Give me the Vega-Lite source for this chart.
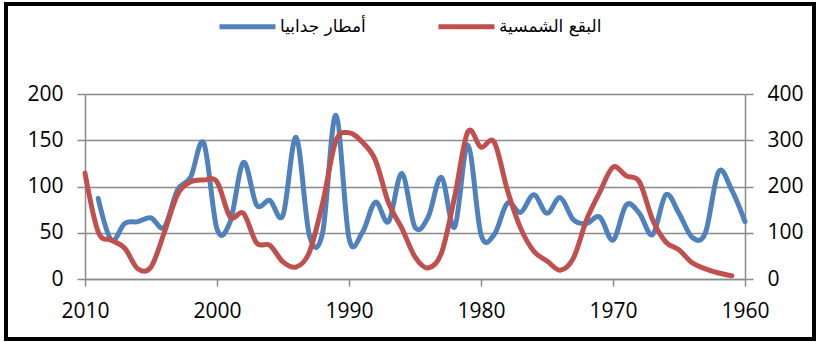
{
  "$schema": "https://vega.github.io/schema/vega-lite/v6.json",
  "autosize": {"type": "none"},
  "padding": {"left": 6, "top": 4, "right": 4, "bottom": 3},
  "width": 808,
  "height": 335,
  "background": "white",
  "config": {
    "view": {"stroke": "black", "strokeWidth": 4, "fill": "white"},
    "axis": {
      "labelFont": "Open Sans",
      "labelFontSize": 21,
      "labelColor": "black",
      "labelFlush": false,
      "domainColor": "#8a8a8a",
      "domainWidth": 1.5,
      "tickColor": "#8a8a8a",
      "tickWidth": 1.5,
      "tickSize": 8,
      "labelPadding": 14,
      "gridColor": "#8a8a8a",
      "gridWidth": 1.5,
      "title": null
    },
    "legend": {
      "orient": "none",
      "legendX": 211,
      "legendY": -8,
      "direction": "horizontal",
      "symbolType": "stroke",
      "symbolStrokeWidth": 5,
      "symbolSize": 3136,
      "labelFont": "DejaVu Sans",
      "labelFontSize": 17,
      "labelColor": "black",
      "labelOffset": 2,
      "columnPadding": 62,
      "labelLimit": 400,
      "title": null
    }
  },
  "data": {
    "values": [
      {"year": 2010, "rain": null, "sun": 229},
      {"year": 2009, "rain": 87, "sun": 102},
      {"year": 2008, "rain": 42, "sun": 84},
      {"year": 2007, "rain": 60, "sun": 67},
      {"year": 2006, "rain": 62, "sun": 22},
      {"year": 2005, "rain": 66, "sun": 26},
      {"year": 2004, "rain": 56, "sun": 100},
      {"year": 2003, "rain": 96, "sun": 182},
      {"year": 2002, "rain": 110, "sun": 210},
      {"year": 2001, "rain": 147, "sun": 214},
      {"year": 2000, "rain": 54, "sun": 210},
      {"year": 1999, "rain": 62, "sun": 134},
      {"year": 1998, "rain": 126, "sun": 142},
      {"year": 1997, "rain": 80, "sun": 78},
      {"year": 1996, "rain": 85, "sun": 73},
      {"year": 1995, "rain": 69, "sun": 37},
      {"year": 1994, "rain": 153, "sun": 26},
      {"year": 1993, "rain": 47, "sun": 58},
      {"year": 1992, "rain": 50, "sun": 164},
      {"year": 1991, "rain": 177, "sun": 298},
      {"year": 1990, "rain": 44, "sun": 316},
      {"year": 1989, "rain": 50, "sun": 296},
      {"year": 1988, "rain": 83, "sun": 257},
      {"year": 1987, "rain": 62, "sun": 164},
      {"year": 1986, "rain": 114, "sun": 110},
      {"year": 1985, "rain": 56, "sun": 48},
      {"year": 1984, "rain": 67, "sun": 24},
      {"year": 1983, "rain": 110, "sun": 56},
      {"year": 1982, "rain": 56, "sun": 177},
      {"year": 1981, "rain": 145, "sun": 318},
      {"year": 1980, "rain": 48, "sun": 285},
      {"year": 1979, "rain": 48, "sun": 296},
      {"year": 1978, "rain": 82, "sun": 192},
      {"year": 1977, "rain": 72, "sun": 110},
      {"year": 1976, "rain": 91, "sun": 60},
      {"year": 1975, "rain": 71, "sun": 39},
      {"year": 1974, "rain": 88, "sun": 19},
      {"year": 1973, "rain": 64, "sun": 45},
      {"year": 1972, "rain": 60, "sun": 128},
      {"year": 1971, "rain": 67, "sun": 188},
      {"year": 1970, "rain": 42, "sun": 242},
      {"year": 1969, "rain": 80, "sun": 223},
      {"year": 1968, "rain": 71, "sun": 210},
      {"year": 1967, "rain": 48, "sun": 128},
      {"year": 1966, "rain": 91, "sun": 80},
      {"year": 1965, "rain": 71, "sun": 63},
      {"year": 1964, "rain": 45, "sun": 35},
      {"year": 1963, "rain": 50, "sun": 22},
      {"year": 1962, "rain": 116, "sun": 13},
      {"year": 1961, "rain": 96, "sun": 7},
      {"year": 1960, "rain": 62, "sun": null}
    ]
  },
  "encoding": {
    "x": {
      "field": "year",
      "type": "quantitative",
      "scale": {"domain": [2010, 1960], "range": [79, 739], "nice": false, "zero": false},
      "axis": {"values": [2010, 2000, 1990, 1980, 1970, 1960], "format": "d", "grid": false, "offset": -60, "labelPadding": 14, "tickSize": 7, "labelOverlap": false}
    }
  },
  "layer": [
    {
      "mark": {"type": "line", "interpolate": "cardinal", "strokeWidth": 5, "strokeCap": "round", "strokeJoin": "round"},
      "encoding": {
        "y": {
          "field": "rain",
          "type": "quantitative",
          "scale": {"domain": [0, 200], "range": [275, 90], "nice": false},
          "axis": {"orient": "left", "values": [0, 50, 100, 150, 200], "grid": true, "offset": -79}
        },
        "color": {
          "datum": "أمطار جدابيا",
          "scale": {"domain": ["أمطار جدابيا", "البقع الشمسية"], "range": ["#4F81BD", "#C0504D"]}
        }
      }
    },
    {
      "mark": {"type": "line", "interpolate": "cardinal", "strokeWidth": 5, "strokeCap": "round", "strokeJoin": "round"},
      "encoding": {
        "y": {
          "field": "sun",
          "type": "quantitative",
          "scale": {"domain": [0, 400], "range": [275, 90], "nice": false},
          "axis": {"orient": "right", "values": [0, 100, 200, 300, 400], "grid": false, "offset": -69}
        },
        "color": {"datum": "البقع الشمسية"}
      }
    }
  ],
  "resolve": {"scale": {"y": "independent"}}
}
